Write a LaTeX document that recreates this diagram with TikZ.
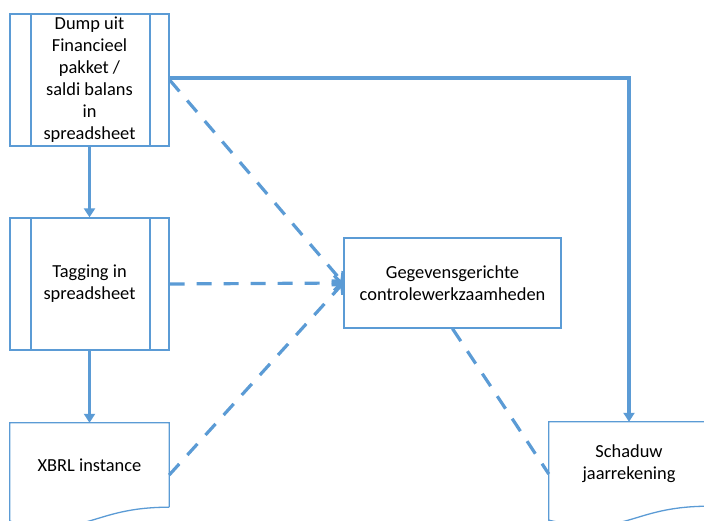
\documentclass[tikz,border=0pt]{standalone}
\usepackage{fontspec}
\setmainfont{Carlito}
\usetikzlibrary{positioning,arrows.meta}
\definecolor{boxblue}{HTML}{5B9BD5}

\begin{document}
\begin{tikzpicture}
			[x=1pt, y=1pt,
			font=\fontsize{18.4}{22}\selectfont,
			every node/.style={rectangle, align=center, inner sep=0pt},
			box/.style={draw=boxblue, line width=1.3pt},
			subproc/.style={box, minimum width=159, minimum height=132,
				path picture={
					\draw[boxblue, line width=1.3pt]
						([xshift=21]path picture bounding box.north west) -- ([xshift=21]path picture bounding box.south west)
						([xshift=-19]path picture bounding box.north east) -- ([xshift=-19]path picture bounding box.south east);
				}},
			docpart/.style={minimum height=84},
			docline/.style={boxblue, line width=1.3pt},
			flow/.style={draw=boxblue, line width=3.2pt, -{Triangle[length=9,width=11]}},
			link/.style={draw=boxblue, line width=3.2pt, dash pattern=on 15pt off 12pt},
			]
			\useasboundingbox (0,0) rectangle (704,520);
			\clip (0,0) rectangle (704,520);

			\node[subproc] (dump) at (89.5,440) {Dump uit\\Financieel\\pakket /\\saldi balans\\in\\spreadsheet};
			\node[subproc] (tagging) at (89.5,236) {Tagging in\\spreadsheet};
			\node[docpart, minimum width=159] (xbrl) at (89.5,55) {XBRL instance};
			\node[box, minimum width=217, minimum height=90] (controle) at (452.5,237) {Gegevensgerichte\\controlewerkzaamheden};
			\node[docpart, minimum width=160] (schaduw) at (629,56) {Schaduw\\jaarrekening};

			% document outlines
			\draw[docline] (xbrl.south east) -- (xbrl.north east) -- (xbrl.north west) -- ([yshift=-14]xbrl.south west)
				.. controls +(79.5,-18) and +(-79.5,0) .. (xbrl.south east);
			\draw[docline] (schaduw.south east) -- (schaduw.north east) -- (schaduw.north west) -- ([yshift=-14]schaduw.south west)
				.. controls +(80,-18) and +(-80,0) .. (schaduw.south east);

			% solid flow
			\draw[flow] (dump) -- (tagging);
			\draw[flow] (tagging) -- (xbrl);
			\draw[flow] ([yshift=2]dump.east) -| (schaduw.north);

			% dashed links
			\draw[link, -{Straight Barb[length=7,width=15]}] (dump.east) -- (controle.west);
			\draw[link, -{Straight Barb[length=7,width=15]}] (tagging.east) -- (controle.west);
			\draw[link, -{Straight Barb[length=7,width=15]}] ([yshift=-10]xbrl.east) -- (controle.west);
			\draw[link] (controle.south) -- ([yshift=-10]schaduw.west);
		\end{tikzpicture}
\end{document}
